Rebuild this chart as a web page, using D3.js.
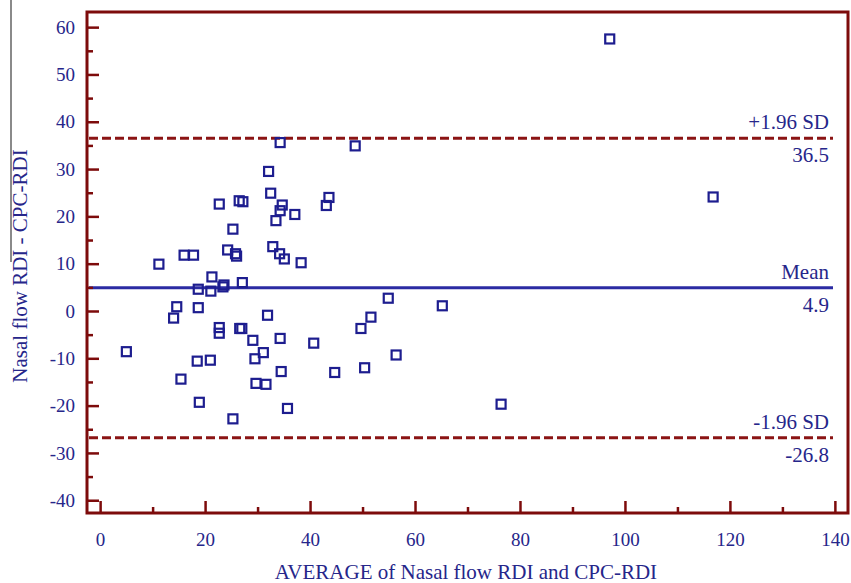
<!DOCTYPE html>
<html>
    <head>
        <meta charset="utf-8">
        <script type="text/javascript" src="https://d3js.org/d3.v7.min.js"></script>
        <style>
            body { margin: 0; background: #fff; }
            text { font-family: "Liberation Serif", "Times New Roman", serif; }
        </style>
    </head>
    <body>
        <svg width="851" height="583"></svg>
        <script type="text/javascript">
            // averages (x) and differences (y)
            var avgValues = [97.1, 116.8, 76.4, 5.0, 11.2, 34.3, 48.6, 32.1, 32.5, 22.7,
                             26.5, 27.2, 34.7, 34.3, 33.5, 37.1, 43.6, 43.1, 25.3, 24.3,
                             25.8, 26.0, 16.0, 17.8, 32.9, 34.2, 35.1, 38.3, 21.3, 18.7,
                             21.1, 23.6, 23.4, 27.1, 14.6, 18.7, 14.0, 31.9, 22.7, 22.7,
                             27.0, 26.6, 29.1, 34.3, 40.7, 31.1, 29.5, 18.5, 21.0, 34.5,
                             44.7, 15.4, 29.7, 31.6, 18.9, 35.7, 25.3, 54.9, 65.2, 51.6,
                             49.7, 56.4, 50.4];
            var diffValues = [57.5, 24.1, -19.7, -8.6, 9.9, 35.6, 34.9, 29.5, 24.9, 22.6,
                              23.3, 23.1, 22.4, 21.2, 19.1, 20.4, 24.0, 22.3, 17.3, 12.9,
                              12.1, 11.6, 11.8, 11.8, 13.6, 12.1, 11.0, 10.2, 7.2, 4.6,
                              4.2, 5.5, 5.1, 6.0, 0.9, 0.7, -1.5, -0.9, -3.5, -4.7,
                              -3.7, -3.7, -6.2, -5.8, -6.8, -8.8, -10.1, -10.6, -10.4, -12.8,
                              -13.0, -14.4, -15.3, -15.5, -19.3, -20.6, -22.8, 2.7, 1.1, -1.3,
                              -3.7, -9.3, -12.0];
            var refLines = [
                {value: 36.5, label: "+1.96 SD", kind: "sd"},
                {value: 4.9, label: "Mean", kind: "mean"},
                {value: -26.8, label: "-1.96 SD", kind: "sd"}
            ];
            var xTicks = [0, 20, 40, 60, 80, 100, 120, 140];
            var xMinor = [10, 30, 50, 70, 90, 110, 130];
            var yTicks = [-40, -30, -20, -10, 0, 10, 20, 30, 40, 50, 60];
            var yMinor = [-35, -25, -15, -5, 5, 15, 25, 35, 45, 55];

            var maroon = "#7d0b0b";
            var blue = "#1d1d8f";
            var textBlue = "#26268a";

            var svg = d3.select("svg");
            var x = d3.scaleLinear().domain([-2.5, 142.5]).range([87, 848]);
            var y = d3.scaleLinear().domain([63.2, -42.7]).range([12, 513]);

            // odd grey line at the far left of the original picture
            svg.append("line")
                .attr("x1", 11).attr("x2", 11).attr("y1", 0).attr("y2", 262)
                .style("stroke", "#8a8a8a").style("stroke-width", 2);

            // reference lines
            refLines.forEach(function(r) {
                svg.append("line")
                    .attr("x1", 89).attr("x2", 833)
                    .attr("y1", y(r.value)).attr("y2", y(r.value))
                    .style("stroke", r.kind == "sd" ? "#8b1414" : "#2b2ba3")
                    .style("stroke-width", 3)
                    .style("stroke-dasharray", r.kind == "sd" ? "9,4" : null);
                svg.append("text")
                    .attr("x", 829).attr("y", y(r.value) - 9)
                    .attr("text-anchor", "end")
                    .style("font-size", "21px").style("fill", textBlue)
                    .text(r.label);
                svg.append("text")
                    .attr("x", 829).attr("y", y(r.value) + 24)
                    .attr("text-anchor", "end")
                    .style("font-size", "21px").style("fill", textBlue)
                    .text(r.value.toFixed(1));
            });

            // points
            var pts = avgValues.map(function(a, i) { return {x: a, y: diffValues[i]}; });
            svg.selectAll("rect.pt")
                .data(pts)
                .enter()
                .append("rect")
                .attr("class", "pt")
                .attr("x", function(d) { return x(d.x) - 4.5; })
                .attr("y", function(d) { return y(d.y) - 4.5; })
                .attr("width", 9).attr("height", 9)
                .style("fill", "none")
                .style("stroke", blue)
                .style("stroke-width", 2.2);

            // axes, ticks pointing inward; plain hyphen for negatives like the original
            var fmt = function(d) { return String(d); };
            svg.append("g").attr("transform", "translate(87,0)")
                .call(d3.axisLeft(y).tickValues(yTicks).tickFormat(fmt).tickSizeInner(-12).tickSizeOuter(0).tickPadding(12));
            svg.append("g").attr("transform", "translate(87,0)")
                .call(d3.axisLeft(y).tickValues(yMinor).tickSizeInner(-6).tickSizeOuter(0).tickFormat(""));
            svg.append("g").attr("transform", "translate(0,513)")
                .call(d3.axisBottom(x).tickValues(xTicks).tickFormat(fmt).tickSizeInner(-12).tickSizeOuter(0).tickPadding(20));
            svg.append("g").attr("transform", "translate(0,513)")
                .call(d3.axisBottom(x).tickValues(xMinor).tickSizeInner(-6).tickSizeOuter(0).tickFormat(""));

            svg.selectAll(".domain").remove();
            svg.selectAll(".tick line").style("stroke", maroon).style("stroke-width", 2.5);
            svg.selectAll(".tick text")
                .style("font-family", "'Liberation Serif', serif")
                .style("font-size", "19px")
                .style("fill", textBlue);

            // frame
            svg.append("rect")
                .attr("x", 87).attr("y", 12).attr("width", 761).attr("height", 501)
                .style("fill", "none").style("stroke", maroon).style("stroke-width", 3);

            // axis titles
            svg.append("text")
                .attr("x", 466).attr("y", 579)
                .attr("text-anchor", "middle")
                .style("font-size", "21px").style("fill", textBlue)
                .text("AVERAGE of Nasal flow RDI and CPC-RDI");
            svg.append("text")
                .attr("transform", "translate(27,266) rotate(-90)")
                .attr("text-anchor", "middle")
                .style("font-size", "21px").style("fill", textBlue)
                .text("Nasal flow RDI - CPC-RDI");
        </script>
    </body>
</html>
